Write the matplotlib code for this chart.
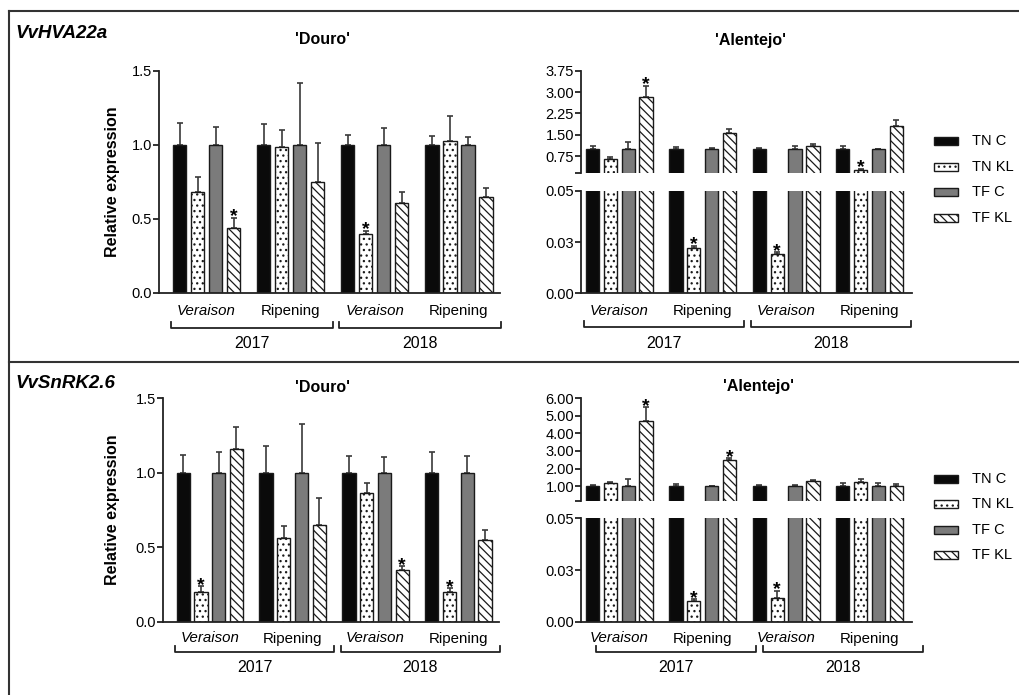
import numpy as np
import matplotlib
matplotlib.use('Agg')
import matplotlib.pyplot as plt
from matplotlib.patches import Rectangle
from matplotlib.lines import Line2D
from matplotlib.transforms import blended_transform_factory

plt.rcParams['font.family'] = ['Liberation Sans', 'DejaVu Sans']
plt.rcParams['hatch.linewidth'] = 0.9

stages = ['Veraison', 'Ripening', 'Veraison', 'Ripening']
years = ['2017', '2018']
treatments = ['TN C', 'TN KL', 'TF C', 'TF KL']

# rows = treatments, columns = 2017 Veraison, 2017 Ripening, 2018 Veraison, 2018 Ripening
hva_douro_mean = [[1.0, 1.0, 1.0, 1.0],
                  [0.68, 0.985, 0.40, 1.028],
                  [1.0, 1.0, 1.0, 1.0],
                  [0.44, 0.747, 0.607, 0.646]]
hva_douro_sem = [[0.147, 0.138, 0.068, 0.062],
                 [0.104, 0.117, 0.018, 0.164],
                 [0.120, 0.415, 0.111, 0.053],
                 [0.067, 0.265, 0.072, 0.060]]
hva_douro_stars = [(3, 0), (1, 2)]

hva_alentejo_mean = [[1.0, 1.0, 1.0, 1.0],
                     [0.645, 0.0222, 0.0192, 0.281],
                     [1.0, 1.0, 1.0, 1.0],
                     [2.84, 1.55, 1.10, 1.80]]
hva_alentejo_sem = [[0.11, 0.08, 0.04, 0.12],
                    [0.085, 0.001, 0.0008, 0.024],
                    [0.25, 0.03, 0.11, 0.01],
                    [0.39, 0.17, 0.08, 0.22]]
hva_alentejo_stars = [(3, 0), (1, 1), (1, 2), (1, 3)]

snrk_douro_mean = [[1.0, 1.0, 1.0, 1.0],
                   [0.197, 0.564, 0.866, 0.201],
                   [1.0, 1.0, 1.0, 1.0],
                   [1.157, 0.649, 0.345, 0.548]]
snrk_douro_sem = [[0.119, 0.180, 0.115, 0.142],
                  [0.040, 0.081, 0.068, 0.023],
                  [0.142, 0.330, 0.108, 0.113],
                  [0.150, 0.184, 0.027, 0.068]]
snrk_douro_stars = [(1, 0), (3, 2), (1, 3)]

snrk_alentejo_mean = [[1.0, 1.0, 1.0, 1.0],
                      [1.17, 0.0100, 0.0113, 1.25],
                      [1.0, 1.0, 1.0, 1.0],
                      [4.71, 2.46, 1.29, 1.0]]
snrk_alentejo_sem = [[0.04, 0.10, 0.04, 0.17],
                     [0.06, 0.0008, 0.0035, 0.17],
                     [0.40, 0.02, 0.08, 0.15],
                     [0.78, 0.12, 0.03, 0.13]]
snrk_alentejo_stars = [(3, 0), (1, 1), (3, 1), (1, 2)]

fill = ['#0a0a0a', 'white', '#7b7b7b', 'white']
hatches = [None, '...', None, '\\\\\\\\']
edge = '#1a1a1a'

W, H = 1019, 695
fig = plt.figure(figsize=(W / 100, H / 100), dpi=100)


def fy(p):
    return 1 - p / H


def add_ax(x0, y0, x1, y1):
    return fig.add_axes([x0 / W, 1 - y1 / H, (x1 - x0) / W, (y1 - y0) / H])


pos = np.arange(4)
offs = (np.arange(4) - 1.5) * 0.214
bw = 0.16


def draw_bars(ax, mean, sem):
    for i in range(4):
        x = pos + offs[i]
        ax.bar(x, mean[i], bw, color=fill[i], hatch=hatches[i], edgecolor=edge,
               linewidth=1.0, zorder=2)
        ax.errorbar(x, mean[i], yerr=[np.zeros(4), sem[i]], fmt='none', ecolor='#3a3a3a',
                    elinewidth=1.2, capsize=2.5, capthick=1.2, zorder=1)


def style(ax, bottom=True):
    for s in ['top', 'right']:
        ax.spines[s].set_visible(False)
    ax.spines['bottom'].set_visible(bottom)
    for s in ['left', 'bottom']:
        ax.spines[s].set_linewidth(1.3)
        ax.spines[s].set_color('#222222')
    ax.set_xticks([])
    ax.tick_params(axis='y', length=4, width=1.3, color='#222222', pad=1, labelsize=10.5)


def put_star(ax, mean, sem, i, g):
    ax.annotate('*', (g + offs[i], mean[i][g] + sem[i][g]), xytext=(0, -2.5),
                textcoords='offset points', ha='center', va='baseline', fontsize=14,
                fontweight='bold')


def x_labels(ax, y_cat, y_br, y_year, shift=0.0):
    tr = blended_transform_factory(ax.transData, fig.transFigure)
    for g, s in enumerate(stages):
        ax.text(g, fy(y_cat), s, transform=tr, ha='center', va='center', fontsize=10.8,
                style='italic' if s == 'Veraison' else 'normal')
    for k, yr in enumerate(years):
        a = 2 * k - 0.42 + shift
        b = 2 * k + 1.5 + shift
        fig.add_artist(Line2D([a, a, b, b], [fy(y_br - 6), fy(y_br), fy(y_br), fy(y_br - 6)],
                              transform=tr, color='#222222', lw=1.3))
        ax.text((a + b) / 2, fy(y_year), yr, transform=tr, ha='center', va='center', fontsize=11.5)


def douro(rect, mean, sem, stars, ylab_y):
    ax = add_ax(*rect)
    draw_bars(ax, mean, sem)
    ax.set_xlim(-0.565, 3.49)
    ax.set_ylim(0, 1.5)
    ax.set_yticks([0, 0.5, 1.0, 1.5])
    ax.set_yticklabels(['0.0', '0.5', '1.0', '1.5'])
    style(ax)
    for i, g in stars:
        put_star(ax, mean, sem, i, g)
    fig.text(112 / W, fy(ylab_y), 'Relative expression', rotation=90, ha='center', va='center',
             fontsize=11.5, fontweight='bold')
    return ax


def alentejo(x0, x1, top_y, bot_y, ymax, ticks, labels, mean, sem, stars):
    top = add_ax(x0, top_y[0], x1, top_y[1])
    bot = add_ax(x0, bot_y[0], x1, bot_y[1])
    for ax in (top, bot):
        draw_bars(ax, mean, sem)
        ax.set_xlim(-0.46, 3.51)
    top.set_ylim(0.15, ymax)
    top.set_yticks([0.15] + ticks)
    top.set_yticklabels([''] + labels)
    style(top, bottom=False)
    bot.set_ylim(0, 0.05)
    bot.set_yticks([0, 0.025, 0.05])
    bot.set_yticklabels(['0.00', '0.03', '0.05'])
    style(bot)
    for i, g in stars:
        put_star(top if mean[i][g] >= 0.15 else bot, mean, sem, i, g)
    return bot


def legend(ys):
    for k, name in enumerate(treatments):
        y = ys[k]
        fig.add_artist(Rectangle((934 / W, fy(y + 4)), 24 / W, 8 / H, transform=fig.transFigure,
                                 facecolor=fill[k], hatch=hatches[k], edgecolor=edge, lw=1.0))
        fig.text(972 / W, fy(y), name, ha='left', va='center', fontsize=10.5)


# upper row: VvHVA22a
ax = douro((159, 70.7, 500, 293), hva_douro_mean, hva_douro_sem, hva_douro_stars, 182)
x_labels(ax, 311, 328, 343)
fig.text(323 / W, fy(40), "'Douro'", ha='center', va='center', fontsize=11.5, fontweight='bold')

ax = alentejo(581, 912, (70.7, 173.3), (190.7, 293.3), 3.75, [0.75, 1.5, 2.25, 3.0, 3.75],
              ['0.75', '1.50', '2.25', '3.00', '3.75'], hva_alentejo_mean, hva_alentejo_sem,
              hva_alentejo_stars)
x_labels(ax, 311, 327, 343)
fig.text(751 / W, fy(40), "'Alentejo'", ha='center', va='center', fontsize=11.5, fontweight='bold')
legend([141, 167, 192, 218])

# lower row: VvSnRK2.6
ax = douro((163, 398.3, 499, 621.7), snrk_douro_mean, snrk_douro_sem, snrk_douro_stars, 510)
x_labels(ax, 638.5, 652, 668)
fig.text(323 / W, fy(387), "'Douro'", ha='center', va='center', fontsize=11.5, fontweight='bold')

ax = alentejo(581, 912, (398.3, 501), (518.3, 621.7), 6.0, [1, 2, 3, 4, 5, 6],
              ['1.00', '2.00', '3.00', '4.00', '5.00', '6.00'], snrk_alentejo_mean,
              snrk_alentejo_sem, snrk_alentejo_stars)
x_labels(ax, 638.5, 652, 668, shift=0.14)
fig.text(758 / W, fy(387), "'Alentejo'", ha='center', va='center', fontsize=11.5, fontweight='bold')
legend([479, 504, 530, 555])

# gene names and frame
fig.text(15 / W, fy(34), 'VvHVA22a', ha='left', va='center', fontsize=13.5,
         fontweight='bold', style='italic')
fig.text(15 / W, fy(383), 'VvSnRK2.6', ha='left', va='center', fontsize=13.5,
         fontweight='bold', style='italic')
frame = dict(transform=fig.transFigure, color='#333333', lw=1.5)
fig.add_artist(Line2D([9 / W, 1], [fy(11), fy(11)], **frame))
fig.add_artist(Line2D([9 / W, 9 / W], [fy(11), 0], **frame))
fig.add_artist(Line2D([9 / W, 1], [fy(362), fy(362)], **frame))

fig.savefig('out.png', dpi=100)
